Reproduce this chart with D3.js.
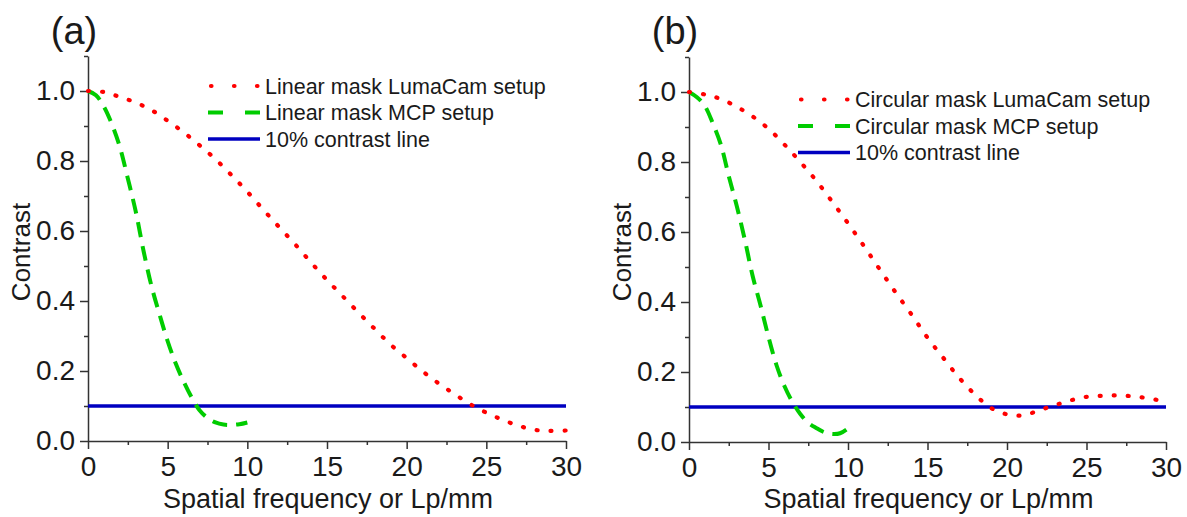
<!DOCTYPE html>
<html>
<head>
<meta charset="utf-8">
<script src="https://cdn.jsdelivr.net/npm/d3@7"></script>
<style>
  body { margin: 0; background: #fff; }
  svg { display: block; font-family: "Liberation Sans", Arial, sans-serif; }
</style>
</head>
<body>
<script>
// values
const freqLuma = [0,1,2,3,4,5,6,7,8,9,10,11,12,13,14,15,16,17,18,19,20,21,22,23,24,25,26,27,28,29,30]
const lumaLinear = [1.0,0.997,0.983,0.967,0.945,0.915,0.882,0.845,0.805,0.76,0.712,0.661,0.611,0.562,0.51,0.46,0.413,0.366,0.32,0.275,0.237,0.199,0.165,0.134,0.105,0.081,0.061,0.044,0.032,0.029,0.03]
const lumaCircular = [1.0,0.993,0.98,0.958,0.93,0.895,0.85,0.8,0.747,0.687,0.625,0.56,0.493,0.427,0.364,0.298,0.24,0.183,0.135,0.097,0.079,0.076,0.09,0.105,0.119,0.129,0.132,0.133,0.13,0.124,0.115]

const freqMcp = [0,0.5,1,1.5,2,2.5,3,3.5,4,4.5,5,5.5,6,6.5,7,7.5,8,8.5,9,9.5,10]
const mcpLinear = [1.0,0.988,0.955,0.905,0.84,0.75,0.655,0.54,0.44,0.36,0.285,0.222,0.17,0.125,0.088,0.066,0.053,0.047,0.046,0.048,0.053]
const mcpCircular = [1.0,0.985,0.96,0.91,0.85,0.76,0.675,0.58,0.475,0.39,0.3,0.22,0.16,0.115,0.08,0.055,0.04,0.028,0.023,0.025,0.039]

const contrastLevel = 0.1
const xTicks = [0,5,10,15,20,25,30]
const xMinor = [2.5,7.5,12.5,17.5,22.5,27.5]
const yTicks = [0,0.2,0.4,0.6,0.8,1.0]
const yMinor = [0.1,0.3,0.5,0.7,0.9,1.1]

const legendA = ["Linear mask LumaCam setup", "Linear mask MCP setup", "10% contrast line"]
const legendB = ["Circular mask LumaCam setup", "Circular mask MCP setup", "10% contrast line"]

const RED = "#ff0000", GREEN = "#00cc00", BLUE = "#0000c0", INK = "#1a1a1a"

const svg = d3.select("body").append("svg")
  .attr("width", 1187)
  .attr("height", 517)

function panel(opt){
  const x = d3.scaleLinear().domain([0,30]).range([opt.left, opt.right])
  const y = d3.scaleLinear().domain([0,1.1]).range([opt.bottom, opt.top])
  const g = svg.append("g")

  // minor ticks first, major axis on top
  g.append("g").attr("transform", `translate(0,${opt.bottom})`)
    .call(d3.axisBottom(x).tickValues(xMinor).tickSize(4).tickSizeOuter(0).tickFormat(""))
    .call(a => a.select(".domain").remove())
  g.append("g").attr("transform", `translate(${opt.left},0)`)
    .call(d3.axisLeft(y).tickValues(yMinor).tickSize(4).tickSizeOuter(0).tickFormat(""))
    .call(a => a.select(".domain").remove())

  const xa = g.append("g").attr("transform", `translate(0,${opt.bottom})`)
    .call(d3.axisBottom(x).tickValues(xTicks).tickSize(8).tickSizeOuter(0).tickPadding(7).tickFormat(d3.format("d")))
  const ya = g.append("g").attr("transform", `translate(${opt.left},0)`)
    .call(d3.axisLeft(y).tickValues(yTicks).tickSize(8).tickSizeOuter(0).tickPadding(5).tickFormat(d3.format(".1f")))

  g.selectAll(".tick line, .domain").attr("stroke", "#333").attr("stroke-width", 1.5)
  ;[xa, ya].forEach(a => a.selectAll("text")
    .attr("fill", INK).style("font-size", "28px").style("font-family", "'Liberation Sans', Arial, sans-serif"))

  // titles
  g.append("text")
    .attr("x", (opt.left + opt.right)/2 + 1).attr("y", 508)
    .attr("text-anchor", "middle").attr("fill", INK).style("font-size", "27px")
    .text("Spatial frequency or Lp/mm")
  g.append("text")
    .attr("transform", `translate(${opt.left - 58},${252}) rotate(-90)`)
    .attr("text-anchor", "middle").attr("fill", INK).style("font-size", "26px")
    .text("Contrast")
  g.append("text")
    .attr("x", opt.left - 14).attr("y", 44)
    .attr("text-anchor", "middle").attr("fill", INK).style("font-size", "38px")
    .text(opt.tag)

  const line = d3.line()
    .x(d => x(d[0]))
    .y(d => y(d[1]))
    .curve(d3.curveCatmullRom)

  // 10% contrast line
  g.append("path")
    .datum([[0, contrastLevel],[30, contrastLevel]])
    .attr("d", line).attr("fill", "none")
    .attr("stroke", BLUE).attr("stroke-width", 3.5)

  g.append("path")
    .datum(d3.zip(opt.mcpX, opt.mcp))
    .attr("d", line).attr("fill", "none")
    .attr("stroke", GREEN).attr("stroke-width", 4)
    .attr("stroke-dasharray", "15 9")

  g.append("path")
    .datum(d3.zip(opt.lumaX, opt.luma))
    .attr("d", line).attr("fill", "none")
    .attr("stroke", RED).attr("stroke-width", 4.2)
    .attr("stroke-linecap", "round")
    .attr("stroke-dasharray", "1 13")

  // legend
  const lg = g.append("g")
  const styles = [
    {c: RED, w: 4.2, dash: "0.5 22.5", cap: "round", x0: 3},
    {c: GREEN, w: 4, dash: "15 22", cap: "butt", x0: 0},
    {c: BLUE, w: 3.5, dash: null, cap: "butt", x0: 0}
  ]
  opt.labels.forEach((t, i) => {
    const yy = opt.legY + i*26.5
    const s = styles[i]
    lg.append("line")
      .attr("x1", opt.legX + s.x0).attr("x2", opt.legX + 52 - s.x0/2)
      .attr("y1", yy).attr("y2", yy)
      .attr("stroke", s.c).attr("stroke-width", s.w)
      .attr("stroke-linecap", s.cap)
      .attr("stroke-dasharray", s.dash)
    lg.append("text")
      .attr("x", opt.legX + 57).attr("y", yy).attr("dy", "0.36em")
      .attr("fill", INK).style("font-size", "21.5px")
      .text(t)
  })
}

panel({left: 88, right: 566, top: 56, bottom: 441, tag: "(a)",
  lumaX: freqLuma, luma: lumaLinear, mcpX: freqMcp, mcp: mcpLinear,
  labels: legendA, legX: 208, legY: 86})

panel({left: 689, right: 1166, top: 57, bottom: 442, tag: "(b)",
  lumaX: freqLuma, luma: lumaCircular, mcpX: freqMcp, mcp: mcpCircular,
  labels: legendB, legX: 798, legY: 99.5})
</script>
</body>
</html>
